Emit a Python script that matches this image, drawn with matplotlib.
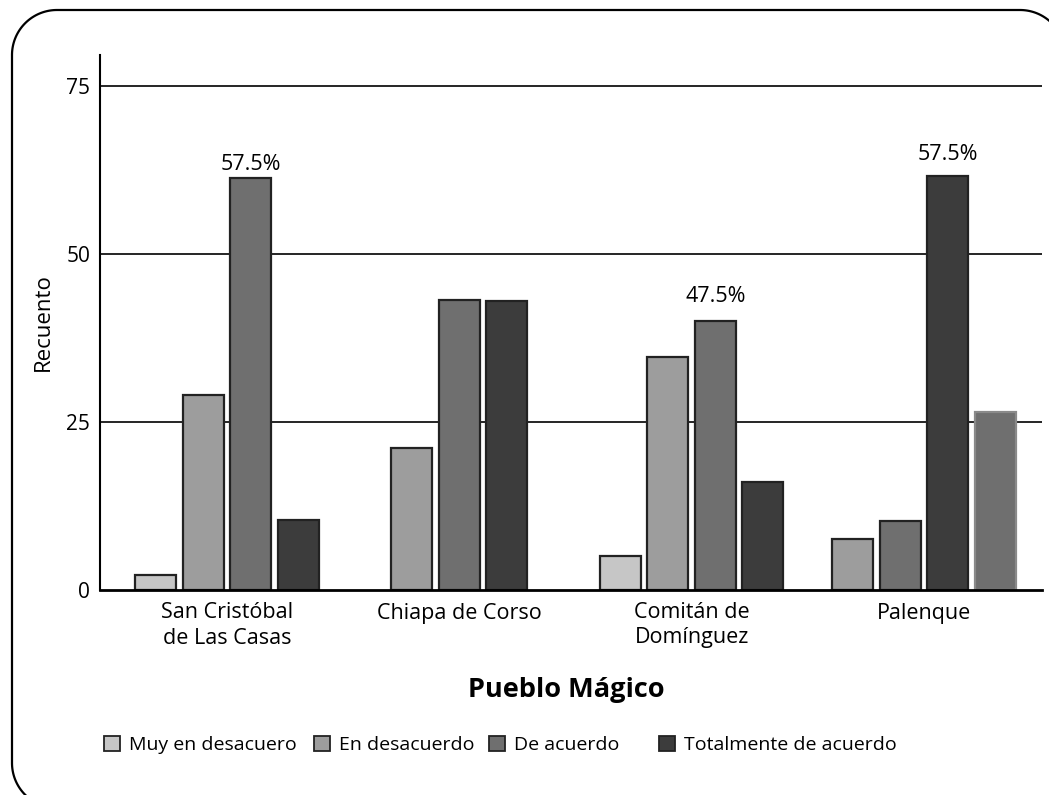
import matplotlib
matplotlib.use("Agg")
import numpy as np
import matplotlib.pyplot as plt
from matplotlib.patches import Patch

plt.rcParams['font.family'] = ['Open Sans', 'DejaVu Sans']

towns = ["San Cristóbal\nde Las Casas", "Chiapa de Corso", "Comitán de\nDomínguez", "Palenque"]
series = ["Muy en desacuero", "En desacuerdo", "De acuerdo", "Totalmente de acuerdo"]
colors = ["#c6c6c6", "#9d9d9d", "#6f6f6f", "#3c3c3c"]

san_cristobal = [2.2, 29.0, 61.3, 10.4]
chiapa = [21.1, 43.2, 43.0]
comitan = [5.1, 34.7, 40.0, 16.1]
palenque = [7.6, 10.3, 61.6, 26.5]
town_values = [san_cristobal, chiapa, comitan, palenque]
# series index (colour) of each bar
town_series = [[0, 1, 2, 3], [1, 2, 3], [0, 1, 2, 3], [1, 2, 3, 2]]

pct_labels = ["57.5%", None, "47.5%", "57.5%"]
pct_bar = [2, None, 2, 2]
pct_offset = [5.5, 0, 13.5, 11.5]

yticks = [0, 25, 50, 75]

W, H = 1049, 795
fig = plt.figure(figsize=(W / 100, H / 100), dpi=100)

# overlay in pixel units for the rounded frame (origin bottom-left)
bg = fig.add_axes([0, 0, 1, 1])
bg.set_xlim(0, W)
bg.set_ylim(0, H)
bg.axis("off")
x0, x1, y0, y1, r = 12, 1065, -13, 785, 45
t = np.linspace(0, np.pi / 2, 40)
# bottom-left arc, left edge, top-left arc, top edge, top-right arc (open path)
bl_x = x0 + r - r * np.cos(t[::-1])
bl_y = y0 + r - r * np.sin(t[::-1])
bl_x, bl_y = bl_x[::-1], bl_y[::-1]
tl_x = x0 + r - r * np.cos(t)
tl_y = y1 - r + r * np.sin(t)
tr_x = x1 - r + r * np.sin(t)
tr_y = y1 - r + r * np.cos(t)
fx = np.concatenate([bl_x[::-1], tl_x, tr_x])
fy = np.concatenate([bl_y[::-1], tl_y, tr_y])
bg.plot(fx, fy, color="black", lw=1.6, clip_on=False, solid_capstyle="butt")

ax = fig.add_axes([100 / W, 205 / H, 942 / W, 535 / H])
ax.patch.set_alpha(0)

width = 0.1765
step = 0.2045
for i, (vals, sidx) in enumerate(zip(town_values, town_series)):
    n = len(vals)
    for j, (v, s) in enumerate(zip(vals, sidx)):
        x = i + (j - (n - 1) / 2) * step
        ec = "#222222"
        if i == 3 and j == 3:
            ec = "#8a8a8a"
        ax.bar(x, v, width=width, color=colors[s], edgecolor=ec, linewidth=1.6, zorder=3)
    if pct_labels[i]:
        j = pct_bar[i]
        x = i + (j - (n - 1) / 2) * step
        ax.annotate(pct_labels[i], (x, vals[j]), xytext=(0, pct_offset[i]),
                    textcoords="offset points", ha="center", va="baseline", fontsize=15.5)

ax.set_ylim(0, 79.6)
ax.set_xlim(-0.547, 3.508)
ax.set_yticks(yticks)
ax.set_yticklabels([str(t) for t in yticks], fontsize=15)
for t in yticks[1:]:
    ax.axhline(t, color="black", lw=1.2, zorder=1)
ax.set_xticks(range(len(towns)))
ax.set_xticklabels(towns, fontsize=15.5, linespacing=1.25)
ax.tick_params(axis="x", length=0, pad=9)
ax.tick_params(axis="y", length=0, pad=7)
for s in ["top", "right"]:
    ax.spines[s].set_visible(False)
ax.spines["left"].set_linewidth(1.5)
ax.spines["bottom"].set_linewidth(2.0)
ax.spines["bottom"].set_zorder(4)

ax.set_ylabel("Recuento", fontsize=16, labelpad=9)
fig.text(566 / W, 1 - 690 / H, "Pueblo Mágico", ha="center", va="center",
         fontsize=19.5, fontweight="bold")

legend_x = [104, 314, 489, 659]
for c, label, lx in zip(colors, series, legend_x):
    h = Patch(facecolor=c, edgecolor="#222222", linewidth=1.3)
    fig.legend([h], [label], loc="center left", bbox_to_anchor=(lx / W, 1 - 745 / H),
               frameon=False, fontsize=14.0, handlelength=0.8, handleheight=0.8,
               handletextpad=0.5, borderpad=0, borderaxespad=0)

fig.savefig("out.png", dpi=100)
